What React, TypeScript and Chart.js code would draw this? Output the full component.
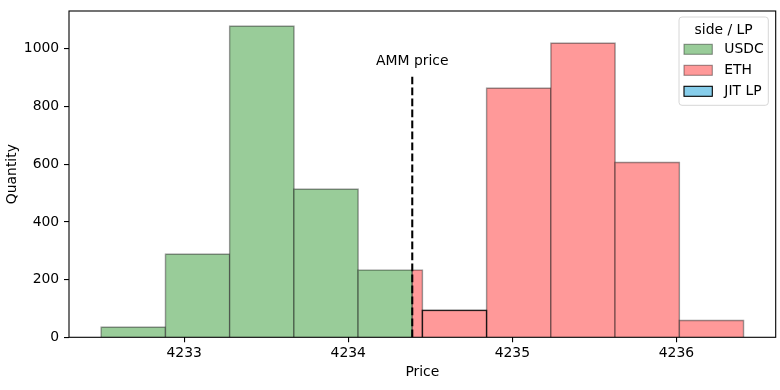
import React, { useEffect, useRef } from "react";
import { Chart, registerables } from "chart.js";

Chart.register(...registerables);

// ---- data ----
const usdcEdges = [4232.494, 4232.886, 4233.277, 4233.669, 4234.06, 4234.39];
const usdcQty = [35, 288, 1078, 513, 233];
const ethEdges = [4234.39, 4234.452, 4234.843, 4235.235, 4235.626, 4236.018, 4236.409];
const ethQty = [233, 93, 863, 1019, 606, 58];
const jitEdges = [4234.452, 4234.843];
const jitQty = [93];
const ammPrice = 4234.39;
const ammLineTop = 903;
const ammLabel = "AMM price";
const ammLabelY = 957;
const xTicks = [4233, 4234, 4235, 4236];
const yTicks = [0, 200, 400, 600, 800, 1000];
const xMin = 4232.298;
const xMax = 4236.605;
const yMax = 1131;
const legendTitle = "side / LP";
const seriesNames = ["USDC", "ETH", "JIT LP"];

const FONT = "DejaVu Sans";
const FS = 13.9;

function rect(x0: number, x1: number, h: number) {
  return [
    { x: x0, y: 0 },
    { x: x0, y: h },
    { x: x1, y: h },
    { x: x1, y: 0 },
  ];
}

function barSets(edges: number[], qty: number[], fill: string, edge: string, order: number, label: string) {
  return qty.map((h, i) => ({
    label,
    data: rect(edges[i], edges[i + 1], h),
    backgroundColor: fill,
    borderColor: edge,
    borderWidth: 1.39,
    fill: "origin",
    pointRadius: 0,
    tension: 0,
    order: order - i * 0.01,
  }));
}

const legendItems = [
  { label: seriesNames[0], fill: "#99cc99", stroke: "rgba(0,0,0,0.4)" },
  { label: seriesNames[1], fill: "#ff9999", stroke: "rgba(0,0,0,0.4)" },
  { label: seriesNames[2], fill: "#87ceeb", stroke: "#000" },
];

const overlay = {
  id: "overlay",
  afterDatasetsDraw(chart: any) {
    const { ctx, chartArea, scales } = chart;
    ctx.save();
    // frame
    ctx.strokeStyle = "#000";
    ctx.lineWidth = 1.1;
    ctx.strokeRect(chartArea.left, chartArea.top, chartArea.right - chartArea.left, chartArea.bottom - chartArea.top);
    // AMM label
    ctx.font = `${FS}px "${FONT}"`;
    ctx.fillStyle = "#000";
    ctx.textAlign = "center";
    ctx.textBaseline = "middle";
    ctx.fillText(ammLabel, scales.x.getPixelForValue(ammPrice), scales.y.getPixelForValue(ammLabelY));
    // legend
    const bw = 89.3;
    const bh = 88.3;
    const bx = chartArea.right - 7.4 - bw;
    const by = chartArea.top + 6;
    ctx.beginPath();
    const r = 3;
    ctx.moveTo(bx + r, by);
    ctx.lineTo(bx + bw - r, by);
    ctx.arcTo(bx + bw, by, bx + bw, by + r, r);
    ctx.lineTo(bx + bw, by + bh - r);
    ctx.arcTo(bx + bw, by + bh, bx + bw - r, by + bh, r);
    ctx.lineTo(bx + r, by + bh);
    ctx.arcTo(bx, by + bh, bx, by + bh - r, r);
    ctx.lineTo(bx, by + r);
    ctx.arcTo(bx, by, bx + r, by, r);
    ctx.closePath();
    ctx.fillStyle = "rgba(255,255,255,0.8)";
    ctx.fill();
    ctx.strokeStyle = "#d6d6d6";
    ctx.lineWidth = 1;
    ctx.stroke();
    ctx.fillStyle = "#000";
    ctx.textAlign = "center";
    ctx.fillText(legendTitle, bx + bw / 2, by + 13.5);
    legendItems.forEach((it, i) => {
      const cy = by + 32.3 + i * 21;
      ctx.fillStyle = it.fill;
      ctx.fillRect(bx + 5, cy - 5, 28.3, 10);
      ctx.strokeStyle = it.stroke;
      ctx.lineWidth = 1.1;
      ctx.strokeRect(bx + 5, cy - 5, 28.3, 10);
      ctx.fillStyle = "#000";
      ctx.textAlign = "left";
      ctx.fillText(it.label, bx + 45.3, cy);
    });
    ctx.restore();
  },
};

export default function App() {
  const ref = useRef<HTMLCanvasElement>(null);
  useEffect(() => {
    document.body.style.margin = "0";
    Chart.defaults.font.family = FONT;
    Chart.defaults.color = "#000";
    const chart = new Chart(ref.current as HTMLCanvasElement, {
      type: "line",
      data: {
        datasets: [
          ...barSets(usdcEdges, usdcQty, "#99cc99", "rgba(0,0,0,0.4)", 40, seriesNames[0]),
          ...barSets(ethEdges, ethQty, "#ff9999", "rgba(0,0,0,0.4)", 30, seriesNames[1]),
          {
            label: seriesNames[2],
            data: rect(jitEdges[0], jitEdges[1], jitQty[0]),
            backgroundColor: "#87ceeb",
            borderColor: "rgba(0,0,0,0.75)",
            borderWidth: 1.3,
            fill: false,
            pointRadius: 0,
            tension: 0,
            order: 2,
          },
          {
            label: ammLabel,
            data: [
              { x: ammPrice, y: 0 },
              { x: ammPrice, y: ammLineTop },
            ],
            borderColor: "#000",
            borderWidth: 2.08,
            borderDash: [7.7, 3.3],
            fill: false,
            pointRadius: 0,
            order: 1,
          },
        ] as any,
      },
      options: {
        animation: false,
        responsive: false,
        devicePixelRatio: 1,
        layout: { padding: { left: 0, top: 11, right: 4.3, bottom: 0 } },
        plugins: { legend: { display: false }, tooltip: { enabled: false } },
        scales: {
          x: {
            type: "linear",
            min: xMin,
            max: xMax,
            afterBuildTicks: (s: any) => {
              s.ticks = xTicks.map((v) => ({ value: v }));
            },
            afterFit: (s: any) => {
              s.height = 52.7;
              s.paddingLeft = 0;
              s.paddingRight = 0;
            },
            ticks: {
              callback: (v: any) => String(v),
              font: { size: FS, family: FONT },
              color: "#000",
              padding: 3,
              maxRotation: 0,
            },
            grid: { display: true, drawOnChartArea: false, drawTicks: true, tickLength: 5, color: "#000", lineWidth: 1.1 },
            border: { display: false },
            title: { display: true, text: "Price", font: { size: FS, family: FONT, lineHeight: 1.2 }, color: "#000", padding: { top: 0, bottom: 9.7 } },
          },
          y: {
            type: "linear",
            min: 0,
            max: yMax,
            afterBuildTicks: (s: any) => {
              s.ticks = yTicks.map((v) => ({ value: v }));
            },
            afterFit: (s: any) => {
              s.width = 69;
              s.paddingTop = 0;
              s.paddingBottom = 0;
            },
            ticks: {
              callback: (v: any) => String(v),
              font: { size: FS, family: FONT },
              color: "#000",
              padding: 4.8,
            },
            grid: { display: true, drawOnChartArea: false, drawTicks: true, tickLength: 5, color: "#000", lineWidth: 1.1 },
            border: { display: false },
            title: { display: true, text: "Quantity", font: { size: FS, family: FONT, lineHeight: 1.2 }, color: "#000", padding: { top: 3.7, bottom: 0 } },
          },
        },
      },
      plugins: [overlay],
    });
    return () => chart.destroy();
  }, []);
  return (
    <div style={{ position: "absolute", left: 0, top: 0, width: 780, height: 390 }}>
      <canvas ref={ref} width={780} height={390} />
    </div>
  );
}
